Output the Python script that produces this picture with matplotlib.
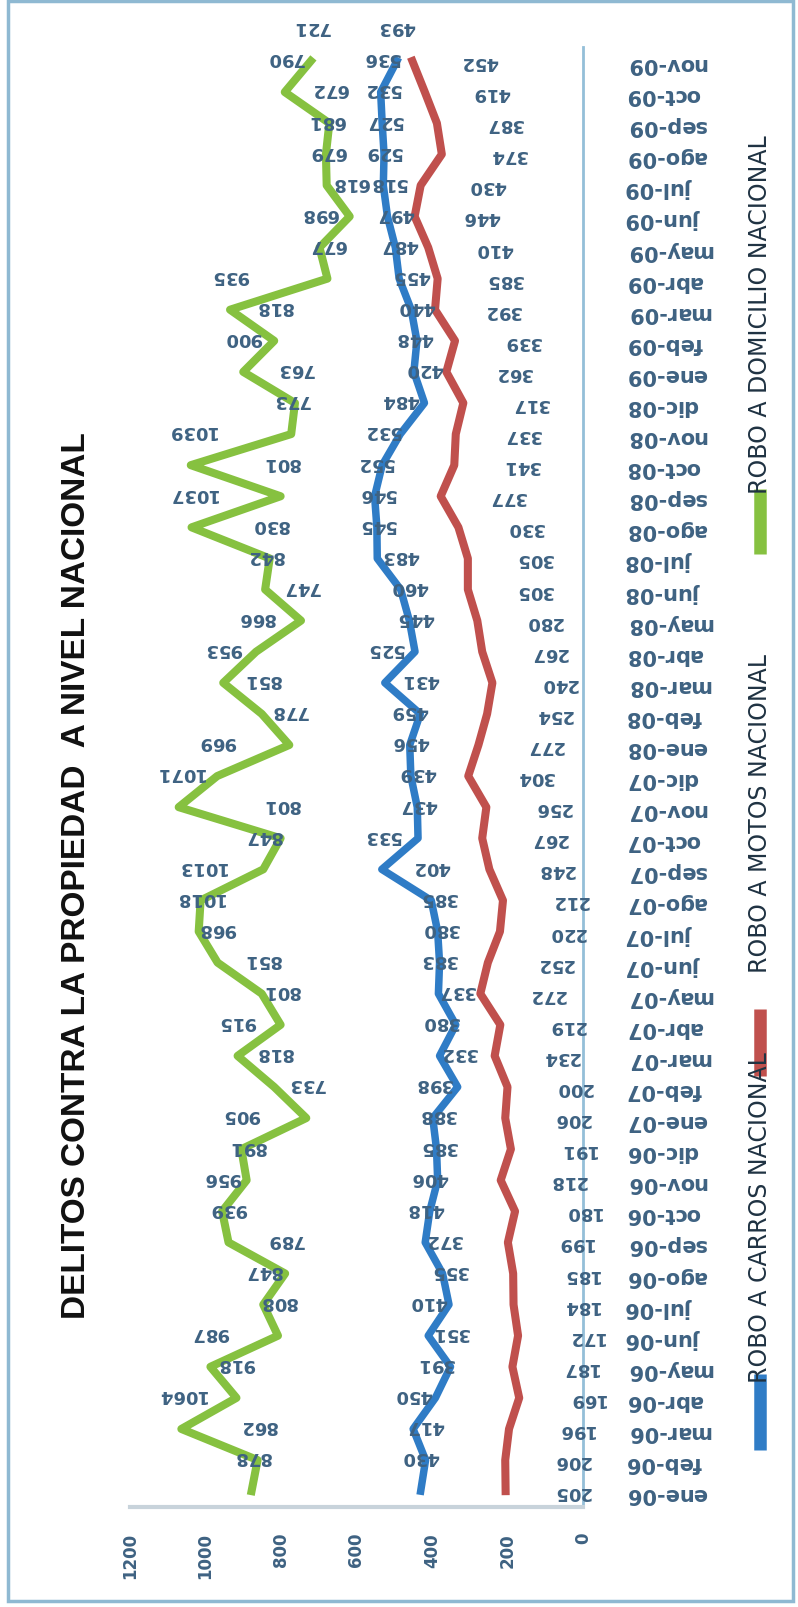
"""Delitos contra la propiedad a nivel nacional (chart drawn rotated, as in the scan)."""

import matplotlib

matplotlib.use("Agg")
import matplotlib.pyplot as plt
from matplotlib import font_manager
from matplotlib.lines import Line2D
from matplotlib.patches import Rectangle

fechas = [
    "ene-06", "feb-06", "mar-06", "abr-06", "may-06", "jun-06", "jul-06", "ago-06",
    "sep-06", "oct-06", "nov-06", "dic-06", "ene-07", "feb-07", "mar-07", "abr-07",
    "may-07", "jun-07", "jul-07", "ago-07", "sep-07", "oct-07", "nov-07", "dic-07",
    "ene-08", "feb-08", "mar-08", "abr-08", "may-08", "jun-08", "jul-08", "ago-08",
    "sep-08", "oct-08", "nov-08", "dic-08", "ene-09", "feb-09", "mar-09", "abr-09",
    "may-09", "jun-09", "jul-09", "ago-09", "sep-09", "oct-09", "nov-09",
]

carros = [
    430, 417, 450, 391, 351, 410, 355, 372, 418, 406, 385, 388, 398, 332, 380, 337,
    383, 380, 385, 402, 533, 437, 439, 456, 459, 431, 525, 445, 460, 483, 545, 546,
    552, 532, 484, 420, 448, 440, 455, 487, 497, 518, 529, 527, 532, 536, 493,
]
motos = [
    205, 206, 196, 169, 187, 172, 184, 185, 199, 180, 218, 191, 206, 200, 234, 219,
    272, 252, 220, 212, 248, 267, 256, 304, 277, 254, 240, 267, 280, 305, 305, 330,
    377, 341, 337, 317, 362, 339, 392, 385, 410, 446, 430, 374, 387, 419, 452,
]
domicilio = [
    878, 862, 1064, 918, 987, 808, 847, 789, 939, 956, 891, 905, 733, 818, 915, 801,
    851, 968, 1018, 1013, 847, 801, 1071, 969, 778, 851, 953, 866, 747, 842, 830, 1037,
    801, 1039, 773, 763, 900, 818, 935, 677, 698, 618, 679, 681, 672, 790, 721,
]
valores_eje = [0, 200, 400, 600, 800, 1000, 1200]

serie_nombres = ["ROBO A CARROS NACIONAL", "ROBO A MOTOS NACIONAL", "ROBO A DOMICILIO NACIONAL"]
titulo = "DELITOS CONTRA LA PROPIEDAD  A NIVEL NACIONAL"

AZUL = "#2f7cc6"
ROJO = "#c0504d"
VERDE = "#86c140"
TXT = "#3e6282"

W, H = 798, 1608
installed = {f.name for f in font_manager.fontManager.ttflist}
narrow = "Liberation Sans Narrow" if "Liberation Sans Narrow" in installed else "Liberation Sans"
title_size = 29 if narrow == "Liberation Sans Narrow" else 24


def fx(px):
    return px / W


def fy(py):
    return 1 - py / H


fig = plt.figure(figsize=(W / 100, H / 100), dpi=100)
ax = fig.add_axes([fx(130), fy(1508), fx(583 - 130), (1508 - 48) / H])

pos = list(range(len(fechas)))
ax.plot(domicilio, pos, color=VERDE, lw=5.8, solid_joinstyle="round")
ax.plot(carros, pos, color=AZUL, lw=5.4, solid_joinstyle="round")
ax.plot(motos, pos, color=ROJO, lw=5.8, solid_joinstyle="round")

lab = dict(ha="center", va="center", rotation=180, fontsize=13,
           fontweight="bold", color=TXT, textcoords="offset points")
for i in pos:
    ax.annotate(str(domicilio[i]), (domicilio[i], i), xytext=(0, 25), **lab)
    ax.annotate(str(carros[i]), (carros[i], i), xytext=(0, 25), **lab)
    ax.annotate(str(motos[i]), (motos[i], i), xytext=(48, 0), **lab)

ax.set_xlim(1200, 0)
ax.set_ylim(-0.51, 46.45)
ax.set_xticks(valores_eje)
ax.set_xticklabels([str(v) for v in valores_eje], rotation=90,
                   fontsize=12, fontweight="bold", color=TXT)
ax.set_yticks(pos)
ax.set_yticklabels(fechas, rotation=180, fontsize=15, fontweight="bold", color=TXT)
ax.yaxis.tick_right()
ax.tick_params(axis="x", length=0, pad=18)
ax.tick_params(axis="y", length=0, pad=31)
for s in ("left", "top"):
    ax.spines[s].set_visible(False)
ax.spines["bottom"].set_color("#c8d3db")
ax.spines["bottom"].set_linewidth(3)
ax.spines["right"].set_color("#94bfd8")
ax.spines["right"].set_linewidth(2)

fig.text(fx(77), fy(876), titulo, rotation=90, ha="center", va="center",
         fontsize=title_size, fontweight="bold", family=[narrow, "DejaVu Sans"],
         color="#111111")

# legend, drawn by hand because it is rotated
leyenda = [
    (AZUL, (1375, 1451), 1218),
    (ROJO, (1010, 1077), 814),
    (VERDE, (490, 555), 315),
]
for (color, (y1, y2), yc), nombre in zip(leyenda, serie_nombres):
    fig.add_artist(Line2D([fx(760), fx(760)], [fy(y1), fy(y2)], color=color,
                          lw=9, transform=fig.transFigure, solid_capstyle="butt"))
    fig.text(fx(760), fy(yc), nombre, rotation=90, ha="center", va="center",
             fontsize=17, family=["DejaVu Sans"], color="#1f3242")

fig.add_artist(Rectangle((fx(8), fy(1602)), fx(793 - 8), (1602 - 2) / H,
                         transform=fig.transFigure, fill=False,
                         edgecolor="#8fb9d2", lw=2.5))

fig.savefig("out.png", dpi=100)
